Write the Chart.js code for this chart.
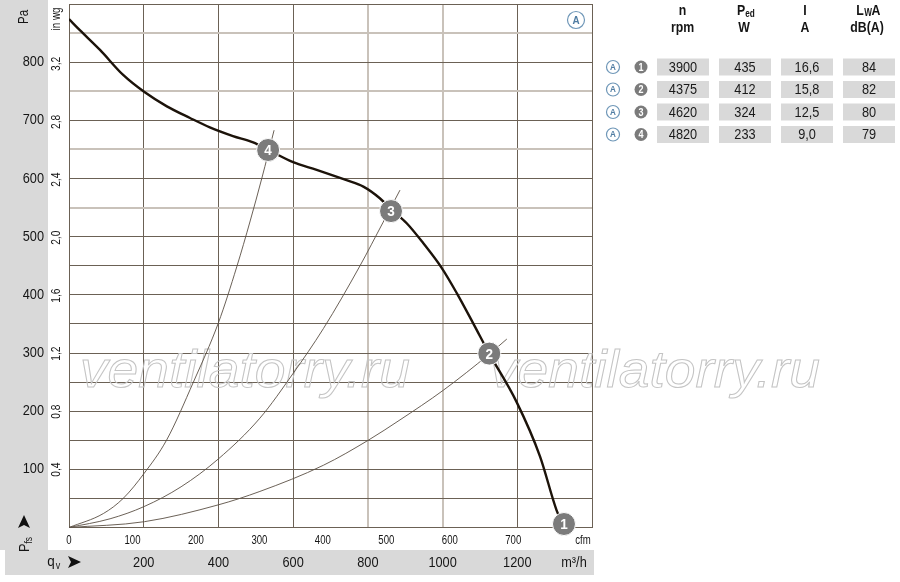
<!DOCTYPE html>
<html><head><meta charset="utf-8">
<script src="https://cdn.jsdelivr.net/npm/chart.js@4/dist/chart.umd.min.js"></script>
<style>html,body{margin:0;padding:0;background:#fff}#wrap{width:900px;height:582px;position:relative}</style>
</head><body><div id="wrap"><canvas id="c" width="900" height="582"></canvas></div>
<script>
// ---- data (flow in m3/h, pressure in Pa) ----
const fanFlow = [0,29,83,145,201,262,324,377,439,493,534,600,663,743,788,832,864,904,948,998,1038,1082,1125,1198,1261,1305,1323];
const fanPres = [874,855,821,778,749,724,704,688,673,662,649,628,615,597,586,566,546,523,489,446,403,351,299,216,122,30,4];
const sys4Flow = [0,92,145,201,261,333,400,449,485,516,549];
const sys4Pres = [0,24,50,93,150,250,352,448,527,600,683];
const sys3Flow = [0,110,201,300,400,511,600,681,779,841,886];
const sys3Pres = [0,15,36,70,118,188,265,342,450,525,580];
const sys2Flow = [0,202,400,511,681,801,886,1002,1125,1172];
const sys2Pres = [0,10,39,62,107,150,185,236,298,324];
const opFlow = [1325,1125,862,533];
const opPres = [6,299,544,649];
const opLabels = ['1','2','3','4'];
const m3hTicks = [200,400,600,800,1000,1200];
const cfmTicks = [0,100,200,300,400,500,600,700];
const paTicks = [100,200,300,400,500,600,700,800];
const inwgTicks = ['0,4','0,8','1,2','1,6','2,0','2,4','2,8','3,2'];
const tableRpm = ['3900','4375','4620','4820'];
const tablePower = ['435','412','324','233'];
const tableCurrent = ['16,6','15,8','12,5','9,0'];
const tableNoise = ['84','82','80','79'];
const CFM_TO_M3H = 1.699;
const INWG_TO_PA = 249.09;

const pts = (xs, ys) => xs.map((x, i) => ({x, y: ys[i]}));
const FONT = '"Liberation Sans", Arial, sans-serif';

function txt(ctx, s, x, y, o) {
  o = o || {};
  ctx.save();
  ctx.translate(x, y);
  if (o.rot) ctx.rotate(o.rot);
  ctx.scale(o.sx || 0.82, 1);
  ctx.font = (o.weight || '') + ' ' + (o.size || 14) + 'px ' + FONT;
  ctx.fillStyle = o.color || '#151515';
  ctx.textAlign = o.align || 'center';
  ctx.textBaseline = o.base || 'middle';
  ctx.fillText(s, 0, 0);
  ctx.restore();
}

function arrow(ctx, x, y, dir) {
  ctx.save();
  ctx.translate(x, y);
  if (dir === 'up') ctx.rotate(-Math.PI / 2);
  ctx.fillStyle = '#111';
  ctx.beginPath();
  ctx.moveTo(7, 0);
  ctx.lineTo(-6, -6);
  ctx.lineTo(-3, 0);
  ctx.lineTo(-6, 6);
  ctx.closePath();
  ctx.fill();
  ctx.restore();
}

function badge(ctx, x, y, r, label, size) {
  ctx.save();
  ctx.beginPath();
  ctx.arc(x, y, r, 0, Math.PI * 2);
  ctx.fillStyle = '#7b7b7b';
  ctx.fill();
  ctx.restore();
  txt(ctx, label, x, y + 1, {size: size, weight: 'bold', color: '#fff', sx: 0.9});
}

function circA(ctx, x, y, r, size) {
  ctx.save();
  ctx.beginPath();
  ctx.arc(x, y, r, 0, Math.PI * 2);
  ctx.fillStyle = '#fff';
  ctx.fill();
  ctx.lineWidth = 1.2;
  ctx.strokeStyle = '#6f97b8';
  ctx.stroke();
  ctx.restore();
  txt(ctx, 'A', x, y + 0.5, {size: size, weight: 'bold', color: '#4f7ca2', sx: 0.9});
}

const decor = {
  id: 'decor',
  beforeDraw(chart) {
    const ctx = chart.ctx;
    ctx.save();
    ctx.fillStyle = '#fff';
    ctx.fillRect(0, 0, 900, 582);
    ctx.fillStyle = '#d9d9d9';
    ctx.fillRect(0, 0, 48, 550);
    ctx.fillRect(5, 550, 589, 25);
    ctx.restore();
  },
  beforeDatasetsDraw(chart) {
    const ctx = chart.ctx;
    ctx.save();
    ctx.font = 'italic 52px ' + FONT;
    const w = ctx.measureText('ventilatorry.ru').width;
    const sx = 330 / w;
    [80, 490].forEach(x0 => {
      ctx.save();
      ctx.translate(x0, 387);
      ctx.scale(sx, 1);
      ctx.strokeStyle = '#c4c4c4';
      ctx.lineWidth = 1;
      ctx.textAlign = 'left';
      ctx.textBaseline = 'alphabetic';
      ctx.strokeText('ventilatorry.ru', 0, 0);
      ctx.restore();
    });
    ctx.restore();
  },
  afterDraw(chart) {
    const ctx = chart.ctx;
    const xs = chart.scales.x, ys = chart.scales.y;
    // operating point numbers
    opLabels.forEach((l, i) => {
      txt(ctx, l, xs.getPixelForValue(opFlow[i]), ys.getPixelForValue(opPres[i]) + 1, {size: 15, weight: 'bold', color: '#fff', sx: 0.9});
    });
    circA(ctx, 576, 20, 8.5, 11);
    // left axis
    txt(ctx, 'Pa', 24, 17, {size: 14, rot: -Math.PI / 2});
    txt(ctx, 'in wg', 57, 19, {size: 12, rot: -Math.PI / 2});
    paTicks.forEach(v => txt(ctx, String(v), 44, ys.getPixelForValue(v), {size: 15, align: 'right', sx: 0.85}));
    inwgTicks.forEach(s => {
      const v = parseFloat(s.replace(',', '.')) * INWG_TO_PA;
      txt(ctx, s, 57, ys.getPixelForValue(v), {size: 12, rot: -Math.PI / 2, sx: 0.85});
    });
    arrow(ctx, 24, 522, 'up');
    ctx.save();
    ctx.translate(25, 552);
    ctx.rotate(-Math.PI / 2);
    ctx.scale(0.85, 1);
    ctx.font = '15px ' + FONT; ctx.fillStyle = '#151515'; ctx.textBaseline = 'middle'; ctx.textAlign = 'left';
    ctx.fillText('P', 0, 0);
    ctx.font = '10px ' + FONT;
    ctx.fillText('fs', 10, 4);
    ctx.restore();
    // bottom axes
    cfmTicks.forEach(v => txt(ctx, String(v), xs.getPixelForValue(v * CFM_TO_M3H), 541, {size: 12, sx: 0.8}));
    txt(ctx, 'cfm', 583, 541, {size: 12, sx: 0.8});
    m3hTicks.forEach(v => txt(ctx, String(v), xs.getPixelForValue(v), 563, {size: 15, sx: 0.85}));
    txt(ctx, 'm³/h', 574, 563, {size: 15, sx: 0.85});
    txt(ctx, 'q', 51, 562, {size: 15, sx: 0.9});
    txt(ctx, 'v', 58, 566, {size: 10, sx: 0.9});
    arrow(ctx, 74, 562, 'right');
    // table header
    const cols = [682.5, 745, 807, 869];
    txt(ctx, 'n', cols[0], 11, {size: 15, weight: 'bold'});
    txt(ctx, 'rpm', cols[0], 28, {size: 15, weight: 'bold'});
    txt(ctx, 'P', cols[1] - 4, 11, {size: 15, weight: 'bold'});
    txt(ctx, 'ed', cols[1] + 5, 14, {size: 10, weight: 'bold'});
    txt(ctx, 'W', cols[1] - 1, 28, {size: 15, weight: 'bold'});
    txt(ctx, 'I', cols[2] - 2, 11, {size: 15, weight: 'bold'});
    txt(ctx, 'A', cols[2] - 2, 28, {size: 15, weight: 'bold'});
    txt(ctx, 'L', cols[3] - 9, 11, {size: 15, weight: 'bold'});
    txt(ctx, 'W', cols[3] - 1, 13, {size: 10, weight: 'bold'});
    txt(ctx, 'A', cols[3] + 7, 11, {size: 15, weight: 'bold'});
    txt(ctx, 'dB(A)', cols[3] - 2, 28, {size: 15, weight: 'bold'});
    const tableCols = [tableRpm, tablePower, tableCurrent, tableNoise];
    const boxX = [657, 719, 781, 843];
    tableRpm.forEach((_, r) => {
      const yc = 67 + r * 22.5;
      circA(ctx, 613, yc, 6.5, 9);
      badge(ctx, 641, yc, 6.5, opLabels[r], 10);
      tableCols.forEach((col, c) => {
        ctx.fillStyle = '#d9d9d9';
        ctx.fillRect(boxX[c], yc - 8.5, 52, 17);
        txt(ctx, col[r], boxX[c] + 26, yc + 0.5, {size: 15, sx: 0.85, color: '#1a1a1a'});
      });
    });
  }
};

const lightY = v => v > 500 && v % 100 === 50;
const lightX = v => v === 800 || v === 1000;

new Chart(document.getElementById('c'), {
  type: 'scatter',
  data: {
    datasets: [
      {data: pts(opFlow, opPres), showLine: false, pointRadius: 11.5, pointHoverRadius: 11.5,
       pointBackgroundColor: '#7b7b7b', pointBorderColor: '#ffffff', pointBorderWidth: 1, order: 0, clip: false},
      {data: pts(fanFlow, fanPres), showLine: true, borderColor: '#1c130a', borderWidth: 2.4,
       pointRadius: 0, cubicInterpolationMode: 'monotone', order: 1},
      {data: pts(sys4Flow, sys4Pres), showLine: true, borderColor: '#5a4f44', borderWidth: 0.9,
       pointRadius: 0, cubicInterpolationMode: 'monotone', order: 2},
      {data: pts(sys3Flow, sys3Pres), showLine: true, borderColor: '#5a4f44', borderWidth: 0.9,
       pointRadius: 0, cubicInterpolationMode: 'monotone', order: 2},
      {data: pts(sys2Flow, sys2Pres), showLine: true, borderColor: '#5a4f44', borderWidth: 0.9,
       pointRadius: 0, cubicInterpolationMode: 'monotone', order: 2}
    ]
  },
  options: {
    responsive: false,
    animation: false,
    events: [],
    layout: {autoPadding: false, padding: {left: 69, top: 4, right: 308, bottom: 54.5}},
    plugins: {legend: {display: false}, tooltip: {enabled: false}},
    scales: {
      x: {type: 'linear', min: 0, max: 1400,
          ticks: {display: false, stepSize: 200},
          grid: {drawTicks: false,
                 color: c => lightX(c.tick.value) ? '#c9c2ba' : '#6b6155',
                 lineWidth: c => lightX(c.tick.value) ? 2 : 1},
          border: {display: true, color: '#6b6155', width: 1}},
      y: {type: 'linear', min: 0, max: 900,
          ticks: {display: false, stepSize: 50},
          grid: {drawTicks: false,
                 color: c => lightY(c.tick.value) ? '#c9c2ba' : '#6b6155',
                 lineWidth: c => lightY(c.tick.value) ? 2 : 1},
          border: {display: true, color: '#6b6155', width: 1}}
    }
  },
  plugins: [decor]
});
</script>
</body></html>
